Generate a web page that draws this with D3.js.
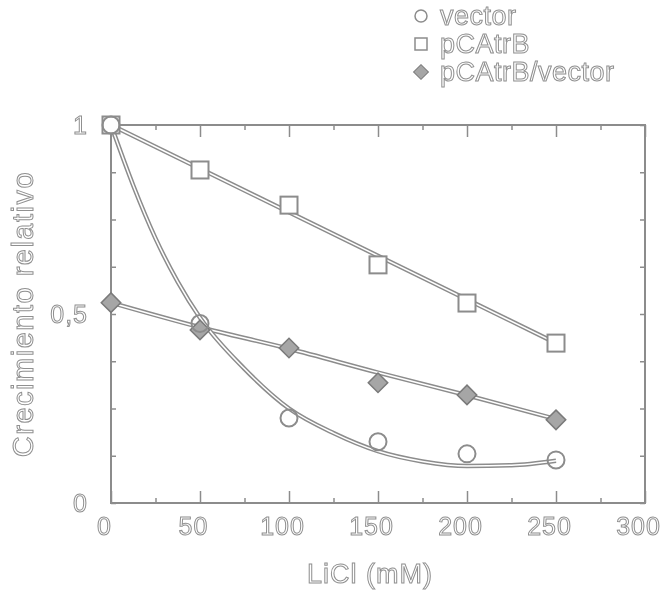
<!DOCTYPE html>
<html>
<head>
<meta charset="utf-8">
<script src="https://cdn.jsdelivr.net/npm/d3@7"></script>
<style>
    body { margin: 0; background: #fff; }
    svg { filter: grayscale(100%); }
    text { font-family: "Liberation Sans", Arial, sans-serif; }
</style>
</head>
<body>
<div id="chart"></div>
<script>
// LiCl concentrations (mM)
const licl = [0, 50, 100, 150, 200, 250];
// measured points
const vector = [1.0, 0.475, 0.225, 0.162, 0.13, 0.114];
const pcatrb = [1.0, 0.881, 0.788, 0.63, 0.529, 0.423];
const pcatrbVector = [0.53, 0.458, 0.41, 0.318, 0.286, 0.22];
// fitted curves
const vectorFitX = [0, 12.5, 25, 37.5, 50, 75, 100, 125, 150, 175, 200, 225, 250];
const vectorFitY = [1.0, 0.84, 0.70, 0.585, 0.49, 0.355, 0.25, 0.185, 0.137, 0.11, 0.098, 0.1, 0.112];
const pcatrbFitX = [0, 250];
const pcatrbFitY = [1.0, 0.423];
const ratioFitX = [0, 50, 100, 150, 200, 250];
const ratioFitY = [0.53, 0.465, 0.408, 0.345, 0.285, 0.222];
// ticks
const xTicks = [0, 50, 100, 150, 200, 250, 300];
const xMinor = [25, 75, 125, 175, 225, 275];
const yTicks = [0, 0.5, 1];
const yMinor = [0.125, 0.25, 0.375, 0.625, 0.75, 0.875];
const seriesNames = ["vector", "pCAtrB", "pCAtrB/vector"];

let grey = "#8c8c8c";
let margin = { top: 125, right: 17, bottom: 89, left: 111 };
let width = 662 - margin.left - margin.right;
let height = 592 - margin.top - margin.bottom;

let root = d3.select("#chart")
    .append("svg")
    .attr("width", 662)
    .attr("height", 592);
let svg = root.append("g")
    .attr("transform", "translate(" + margin.left + "," + margin.top + ")");

let x = d3.scaleLinear().domain([0, 300]).range([0, width]);
let y = d3.scaleLinear().domain([0, 1]).range([height, 0]);
let comma = d3.formatLocale({ decimal: ",", thousands: ".", grouping: [3], currency: ["", ""] }).format("~g");

function outlined(sel, size, spacing) {
    sel.attr("font-size", size)
        .attr("fill", "#fff")
        .attr("stroke", "#909090")
        .attr("stroke-width", 1)
        .style("letter-spacing", spacing + "px");
}

function styleAxis(g) {
    g.select(".domain").remove();
    g.selectAll(".tick line").attr("stroke", grey).attr("stroke-width", 1.5);
    g.selectAll(".tick text").call(outlined, 25, 1);
}

// bottom axis
svg.append("g")
    .attr("transform", "translate(0," + height + ")")
    .call(d3.axisBottom(x).tickValues(xTicks).tickSizeInner(-12).tickSizeOuter(0).tickPadding(14))
    .call(styleAxis)
    .selectAll(".tick text").attr("dx", -7);
svg.append("g")
    .attr("transform", "translate(0," + height + ")")
    .call(d3.axisBottom(x).tickValues(xMinor).tickSizeInner(-5).tickSizeOuter(0).tickFormat(""))
    .call(styleAxis);
// top axis
svg.append("g")
    .call(d3.axisTop(x).tickValues(xTicks).tickSizeInner(-12).tickSizeOuter(0).tickFormat(""))
    .call(styleAxis);
svg.append("g")
    .call(d3.axisTop(x).tickValues(xMinor).tickSizeInner(-5).tickSizeOuter(0).tickFormat(""))
    .call(styleAxis);
// left axis
svg.append("g")
    .call(d3.axisLeft(y).tickValues(yTicks).tickSizeInner(-5).tickSizeOuter(0).tickPadding(23).tickFormat(comma))
    .call(styleAxis);
svg.append("g")
    .call(d3.axisLeft(y).tickValues(yMinor).tickSizeInner(-5).tickSizeOuter(0).tickFormat(""))
    .call(styleAxis);
// right axis
svg.append("g")
    .attr("transform", "translate(" + width + ",0)")
    .call(d3.axisRight(y).tickValues(yTicks.concat(yMinor)).tickSizeInner(-5).tickSizeOuter(0).tickFormat(""))
    .call(styleAxis);

// frame
svg.append("rect")
    .attr("width", width)
    .attr("height", height)
    .attr("fill", "none")
    .attr("stroke", grey)
    .attr("stroke-width", 2);

// axis titles
svg.append("text")
    .attr("x", width / 2 - 8)
    .attr("y", height + 80)
    .attr("text-anchor", "middle")
    .call(outlined, 27, 1)
    .text("LiCl (mM)");
svg.append("text")
    .attr("transform", "translate(" + (-78) + "," + (height / 2) + ") rotate(-90)")
    .attr("text-anchor", "middle")
    .call(outlined, 29, 1.5)
    .text("Crecimiento relativo");

// hollow-looking fitted lines
function fitLine(xs, ys, curve) {
    let pts = xs.map((v, i) => [v, ys[i]]);
    let line = d3.line().x(d => x(d[0])).y(d => y(d[1])).curve(curve);
    svg.append("path").attr("d", line(pts)).attr("fill", "none")
        .attr("stroke", grey).attr("stroke-width", 4.5);
    svg.append("path").attr("d", line(pts)).attr("fill", "none")
        .attr("stroke", "#fff").attr("stroke-width", 1.5);
}
fitLine(pcatrbFitX, pcatrbFitY, d3.curveLinear);
fitLine(ratioFitX, ratioFitY, d3.curveMonotoneX);
fitLine(vectorFitX, vectorFitY, d3.curveMonotoneX);

// markers
let diamond = d3.symbol().type(d3.symbolSquare).size(190);
svg.selectAll(".pt-ratio")
    .data(licl)
    .join("path")
    .attr("class", "pt-ratio")
    .attr("transform", (d, i) => "translate(" + x(d) + "," + y(pcatrbVector[i]) + ") rotate(45)")
    .attr("d", diamond)
    .attr("fill", "#a6a6a6")
    .attr("stroke", "#7a7a7a")
    .attr("stroke-width", 1.5);

svg.selectAll(".pt-sq")
    .data(licl)
    .join("rect")
    .attr("class", "pt-sq")
    .attr("x", d => x(d) - 8.5)
    .attr("y", (d, i) => y(pcatrb[i]) - 8.5)
    .attr("width", 17)
    .attr("height", 17)
    .attr("fill", "#fff")
    .attr("stroke", grey)
    .attr("stroke-width", 2);

svg.selectAll(".pt-circ")
    .data(licl)
    .join("circle")
    .attr("class", "pt-circ")
    .attr("cx", d => x(d))
    .attr("cy", (d, i) => y(vector[i]))
    .attr("r", 8.5)
    .attr("fill", "none")
    .attr("stroke", grey)
    .attr("stroke-width", 2);

// legend
let legend = root.append("g").attr("transform", "translate(421,0)");
let rows = [16, 44, 72];
legend.append("circle").attr("cx", 0).attr("cy", rows[0]).attr("r", 6)
    .attr("fill", "none").attr("stroke", grey).attr("stroke-width", 1.5);
legend.append("rect").attr("x", -6).attr("y", rows[1] - 6).attr("width", 12).attr("height", 12)
    .attr("fill", "none").attr("stroke", grey).attr("stroke-width", 1.5);
legend.append("path").attr("d", d3.symbol().type(d3.symbolSquare).size(110))
    .attr("transform", "translate(0," + rows[2] + ") rotate(45)")
    .attr("fill", "#a6a6a6").attr("stroke", "#7a7a7a").attr("stroke-width", 1);
legend.selectAll(".leg-text")
    .data(seriesNames)
    .join("text")
    .attr("class", "leg-text")
    .attr("x", 19)
    .attr("y", (d, i) => rows[i])
    .attr("dy", "0.35em")
    .call(outlined, 27, 0.5)
    .text(d => d);
</script>
</body>
</html>
